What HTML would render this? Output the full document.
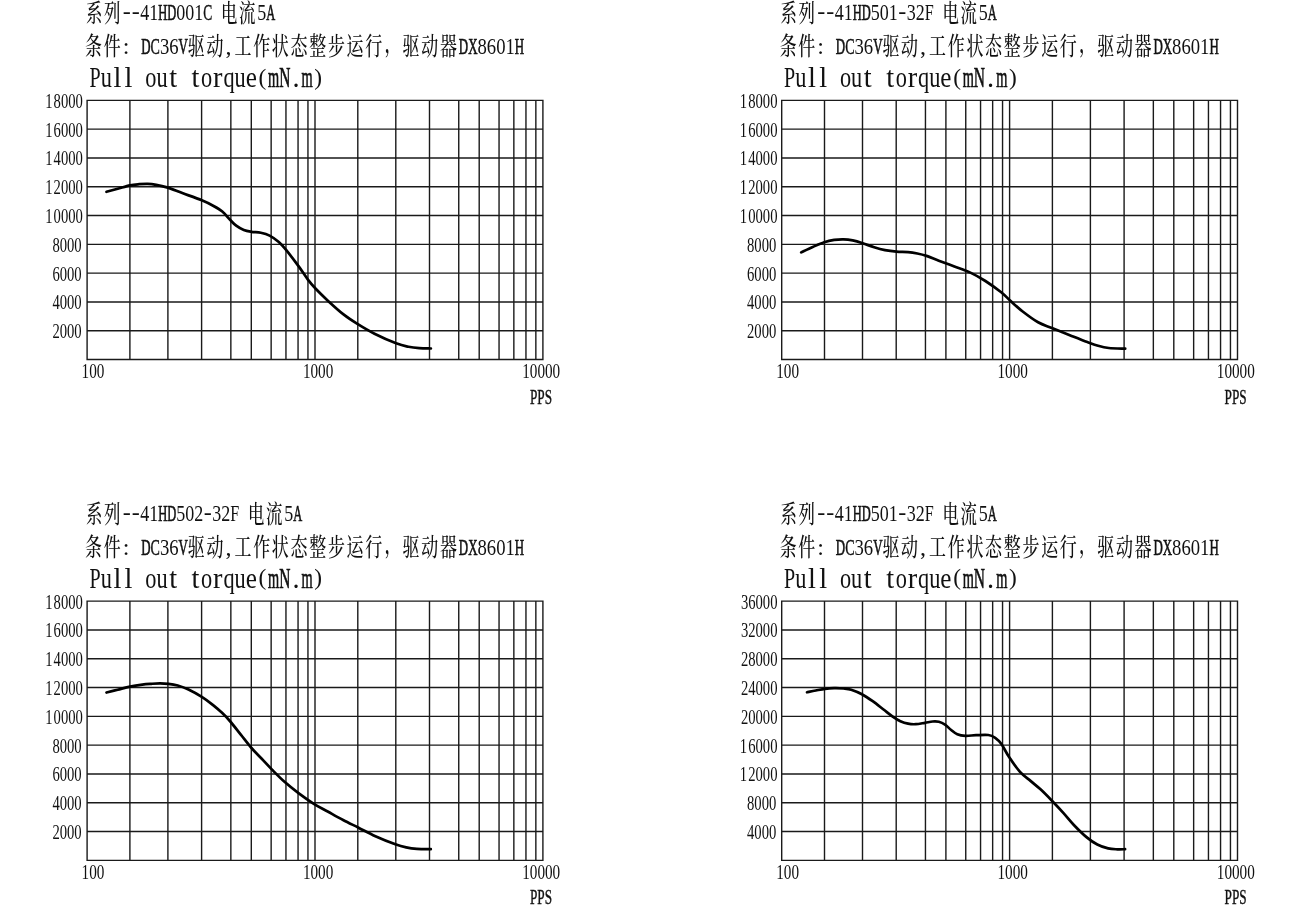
<!DOCTYPE html>
<html lang="zh-CN"><head><meta charset="utf-8"><title>Pull out torque</title>
<style>
html,body{margin:0;padding:0;background:#fff}
svg{display:block;will-change:transform}
tspan.c{font-weight:500}
tspan.n{stroke:#111;stroke-width:.45px}
tspan.m{stroke:#111;stroke-width:.7px}
text{font-family:"Liberation Serif","Noto Serif CJK SC",serif;fill:#111;}
</style></head><body>
<svg width="1300" height="905" viewBox="0 0 1300 905">
<rect width="1300" height="905" fill="#fff"/>
<g><path d="M87.1 99.65V360.25M129.9 99.65V360.25M167.9 99.65V360.25M201.6 99.65V360.25M230.85 99.65V360.25M251.3 99.65V360.25M271.15 99.65V360.25M285.95 99.65V360.25M298.05 99.65V360.25M307.95 99.65V360.25M315 99.65V360.25M357.8 99.65V360.25M395.8 99.65V360.25M429.5 99.65V360.25M458.75 99.65V360.25M479.2 99.65V360.25M499.05 99.65V360.25M513.85 99.65V360.25M525.95 99.65V360.25M535.85 99.65V360.25M542.9 99.65V360.25M86.4 100.35H543.6M86.4 129.15H543.6M86.4 157.95H543.6M86.4 186.75H543.6M86.4 215.55H543.6M86.4 244.35H543.6M86.4 273.15H543.6M86.4 301.95H543.6M86.4 330.75H543.6M86.4 359.55H543.6" fill="none" stroke="#1a1a1a" stroke-width="1.4"/>
<path d="M106.5 191.8C108.37 191.3 113.78 189.87 117.7 188.8C121.62 187.73 126.42 186.17 130 185.4C133.58 184.63 136.25 184.47 139.2 184.2C142.15 183.93 144.87 183.7 147.7 183.8C150.53 183.9 153 184.2 156.2 184.8C159.4 185.4 162.55 186.02 166.9 187.4C171.25 188.78 176.48 190.95 182.3 193.1C188.12 195.25 196.67 198.2 201.8 200.3C206.93 202.4 209.68 203.83 213.1 205.7C216.52 207.57 219.43 209.12 222.3 211.5C225.17 213.88 227.98 217.63 230.3 220C232.62 222.37 233.95 224.03 236.2 225.7C238.45 227.37 241.25 228.98 243.8 230C246.35 231.02 248.67 231.33 251.5 231.8C254.33 232.27 257.78 232.17 260.8 232.8C263.82 233.43 266.6 234.07 269.6 235.6C272.6 237.13 276.02 239.57 278.8 242C281.58 244.43 282.98 246.13 286.3 250.2C289.62 254.27 295.1 261.5 298.7 266.4C302.3 271.3 305.07 275.87 307.9 279.6C310.73 283.33 312.33 285.25 315.7 288.8C319.07 292.35 323.47 296.63 328.1 300.9C332.73 305.17 338.62 310.57 343.5 314.4C348.38 318.23 352.23 320.68 357.4 323.9C362.57 327.12 368.05 330.47 374.5 333.7C380.95 336.93 390.43 341.12 396.1 343.3C401.77 345.48 404.63 345.98 408.5 346.8C412.37 347.62 415.57 347.92 419.3 348.2C423.03 348.48 428.97 348.45 430.9 348.5" fill="none" stroke="#000" stroke-width="2.7" stroke-linecap="round" stroke-linejoin="round"/>
<text font-size="24.1" ><tspan class="c" x="86.01" y="21.8" font-size="25" textLength="16.38" lengthAdjust="spacingAndGlyphs">系</tspan><tspan class="c" x="104.01" y="21.8" font-size="25" textLength="16.38" lengthAdjust="spacingAndGlyphs">列</tspan><tspan x="122.69" y="18.8" textLength="8.03" lengthAdjust="spacingAndGlyphs">-</tspan><tspan x="131.69" y="18.8" textLength="8.03" lengthAdjust="spacingAndGlyphs">-</tspan><tspan x="140.2" y="20.3" textLength="18" lengthAdjust="spacingAndGlyphs">41</tspan><tspan class="m" x="158.2" y="20.3" textLength="9" lengthAdjust="spacingAndGlyphs">H</tspan><tspan class="m" x="167.2" y="20.3" textLength="9" lengthAdjust="spacingAndGlyphs">D</tspan><tspan x="176.2" y="20.3" textLength="27" lengthAdjust="spacingAndGlyphs">001</tspan><tspan class="n" x="203.2" y="20.3" textLength="9" lengthAdjust="spacingAndGlyphs">C</tspan><tspan x="212.2"> </tspan><tspan class="c" x="221.01" y="21.8" font-size="25" textLength="16.38" lengthAdjust="spacingAndGlyphs">电</tspan><tspan class="c" x="239.01" y="21.8" font-size="25" textLength="16.38" lengthAdjust="spacingAndGlyphs">流</tspan><tspan x="257.2" y="20.3" textLength="9" lengthAdjust="spacingAndGlyphs">5</tspan><tspan class="m" x="266.2" y="20.3" textLength="9" lengthAdjust="spacingAndGlyphs">A</tspan></text>
<text font-size="24.1" ><tspan class="c" x="85.04" y="55.4" font-size="25" textLength="17" lengthAdjust="spacingAndGlyphs">条</tspan><tspan class="c" x="103.72" y="55.4" font-size="25" textLength="17" lengthAdjust="spacingAndGlyphs">件</tspan><tspan x="122.76" y="53.9" textLength="6.7" lengthAdjust="spacingAndGlyphs">:</tspan><tspan x="131.9"> </tspan><tspan class="m" x="141.24" y="53.9" textLength="9.34" lengthAdjust="spacingAndGlyphs">D</tspan><tspan class="n" x="150.58" y="53.9" textLength="9.34" lengthAdjust="spacingAndGlyphs">C</tspan><tspan x="159.92" y="53.9" textLength="18.68" lengthAdjust="spacingAndGlyphs">36</tspan><tspan class="m" x="178.6" y="53.9" textLength="9.34" lengthAdjust="spacingAndGlyphs">V</tspan><tspan class="c" x="187.78" y="55.4" font-size="25" textLength="17" lengthAdjust="spacingAndGlyphs">驱</tspan><tspan class="c" x="206.46" y="55.4" font-size="25" textLength="17" lengthAdjust="spacingAndGlyphs">动</tspan><tspan x="225.5" y="53.9" textLength="6.03" lengthAdjust="spacingAndGlyphs">,</tspan><tspan class="c" x="234.48" y="55.4" font-size="25" textLength="17" lengthAdjust="spacingAndGlyphs">工</tspan><tspan class="c" x="253.16" y="55.4" font-size="25" textLength="17" lengthAdjust="spacingAndGlyphs">作</tspan><tspan class="c" x="271.84" y="55.4" font-size="25" textLength="17" lengthAdjust="spacingAndGlyphs">状</tspan><tspan class="c" x="290.52" y="55.4" font-size="25" textLength="17" lengthAdjust="spacingAndGlyphs">态</tspan><tspan class="c" x="309.2" y="55.4" font-size="25" textLength="17" lengthAdjust="spacingAndGlyphs">整</tspan><tspan class="c" x="327.88" y="55.4" font-size="25" textLength="17" lengthAdjust="spacingAndGlyphs">步</tspan><tspan class="c" x="346.56" y="55.4" font-size="25" textLength="17" lengthAdjust="spacingAndGlyphs">运</tspan><tspan class="c" x="365.24" y="55.4" font-size="25" textLength="17" lengthAdjust="spacingAndGlyphs">行</tspan><tspan class="c" x="384.52" y="52.2" font-size="25" textLength="17" lengthAdjust="spacingAndGlyphs">，</tspan><tspan class="c" x="402.6" y="55.4" font-size="25" textLength="17" lengthAdjust="spacingAndGlyphs">驱</tspan><tspan class="c" x="421.28" y="55.4" font-size="25" textLength="17" lengthAdjust="spacingAndGlyphs">动</tspan><tspan class="c" x="439.96" y="55.4" font-size="25" textLength="17" lengthAdjust="spacingAndGlyphs">器</tspan><tspan class="m" x="458.8" y="53.9" textLength="9.34" lengthAdjust="spacingAndGlyphs">D</tspan><tspan class="m" x="468.14" y="53.9" textLength="9.34" lengthAdjust="spacingAndGlyphs">X</tspan><tspan x="477.48" y="53.9" textLength="37.36" lengthAdjust="spacingAndGlyphs">8601</tspan><tspan class="m" x="514.84" y="53.9" textLength="9.34" lengthAdjust="spacingAndGlyphs">H</tspan></text>
<text font-size="28.4" ><tspan x="89.5" y="87" textLength="11.16" lengthAdjust="spacingAndGlyphs">P</tspan><tspan x="100.66" y="87" textLength="11.16" lengthAdjust="spacingAndGlyphs">u</tspan><tspan x="113.45" y="87" textLength="7.89" lengthAdjust="spacingAndGlyphs">l</tspan><tspan x="124.61" y="87" textLength="7.89" lengthAdjust="spacingAndGlyphs">l</tspan><tspan x="134.14"> </tspan><tspan x="145.3" y="87" textLength="11.16" lengthAdjust="spacingAndGlyphs">o</tspan><tspan x="156.46" y="87" textLength="11.16" lengthAdjust="spacingAndGlyphs">u</tspan><tspan x="169.25" y="87" textLength="7.89" lengthAdjust="spacingAndGlyphs">t</tspan><tspan x="178.78"> </tspan><tspan x="191.57" y="87" textLength="7.89" lengthAdjust="spacingAndGlyphs">t</tspan><tspan x="201.1" y="87" textLength="11.16" lengthAdjust="spacingAndGlyphs">o</tspan><tspan x="213.11" y="87" textLength="9.46" lengthAdjust="spacingAndGlyphs">r</tspan><tspan x="223.42" y="87" textLength="11.16" lengthAdjust="spacingAndGlyphs">q</tspan><tspan x="234.58" y="87" textLength="11.16" lengthAdjust="spacingAndGlyphs">u</tspan><tspan x="245.74" y="87" textLength="11.16" lengthAdjust="spacingAndGlyphs">e</tspan><tspan x="258.55" y="84.6" font-size="23.43" textLength="7.8" lengthAdjust="spacingAndGlyphs">(</tspan><tspan class="m" x="268.06" y="87" textLength="11.16" lengthAdjust="spacingAndGlyphs">m</tspan><tspan class="m" x="279.22" y="87" textLength="11.16" lengthAdjust="spacingAndGlyphs">N</tspan><tspan x="292.41" y="87" textLength="7.1" lengthAdjust="spacingAndGlyphs">.</tspan><tspan class="m" x="301.54" y="87" textLength="11.16" lengthAdjust="spacingAndGlyphs">m</tspan><tspan x="314.35" y="84.6" font-size="23.43" textLength="7.8" lengthAdjust="spacingAndGlyphs">)</tspan></text>
<text y="107.75" font-size="21.7"><tspan x="45.2" textLength="7.32" lengthAdjust="spacingAndGlyphs">1</tspan><tspan x="53.62" textLength="29.28" lengthAdjust="spacingAndGlyphs">8000</tspan></text>
<text y="136.55" font-size="21.7"><tspan x="45.2" textLength="7.32" lengthAdjust="spacingAndGlyphs">1</tspan><tspan x="53.62" textLength="29.28" lengthAdjust="spacingAndGlyphs">6000</tspan></text>
<text y="165.35" font-size="21.7"><tspan x="45.2" textLength="7.32" lengthAdjust="spacingAndGlyphs">1</tspan><tspan x="53.62" textLength="29.28" lengthAdjust="spacingAndGlyphs">4000</tspan></text>
<text y="194.15" font-size="21.7"><tspan x="45.2" textLength="7.32" lengthAdjust="spacingAndGlyphs">1</tspan><tspan x="53.62" textLength="29.28" lengthAdjust="spacingAndGlyphs">2000</tspan></text>
<text y="222.95" font-size="21.7"><tspan x="45.2" textLength="7.32" lengthAdjust="spacingAndGlyphs">1</tspan><tspan x="53.62" textLength="29.28" lengthAdjust="spacingAndGlyphs">0000</tspan></text>
<text y="251.75" font-size="21.7"><tspan x="52.42" textLength="29.28" lengthAdjust="spacingAndGlyphs">8000</tspan></text>
<text y="280.55" font-size="21.7"><tspan x="52.42" textLength="29.28" lengthAdjust="spacingAndGlyphs">6000</tspan></text>
<text y="309.35" font-size="21.7"><tspan x="52.42" textLength="29.28" lengthAdjust="spacingAndGlyphs">4000</tspan></text>
<text y="338.15" font-size="21.7"><tspan x="52.42" textLength="29.28" lengthAdjust="spacingAndGlyphs">2000</tspan></text>
<text font-size="21.7" ><tspan x="81.6" y="377.8" textLength="22.8" lengthAdjust="spacingAndGlyphs">100</tspan></text>
<text font-size="21.7" ><tspan x="302.9" y="377.8" textLength="30.4" lengthAdjust="spacingAndGlyphs">1000</tspan></text>
<text font-size="21.7" ><tspan x="522.2" y="377.8" textLength="38" lengthAdjust="spacingAndGlyphs">10000</tspan></text>
<text font-size="21.7" ><tspan class="n" x="530" y="403.6" textLength="7.35" lengthAdjust="spacingAndGlyphs">P</tspan><tspan class="n" x="537.35" y="403.6" textLength="7.35" lengthAdjust="spacingAndGlyphs">P</tspan><tspan class="n" x="544.7" y="403.6" textLength="7.35" lengthAdjust="spacingAndGlyphs">S</tspan></text></g>
<g><path d="M781.7 99.65V360.25M824.5 99.65V360.25M862.5 99.65V360.25M896.2 99.65V360.25M925.45 99.65V360.25M945.9 99.65V360.25M965.75 99.65V360.25M980.55 99.65V360.25M992.65 99.65V360.25M1002.55 99.65V360.25M1009.6 99.65V360.25M1052.4 99.65V360.25M1090.4 99.65V360.25M1124.1 99.65V360.25M1153.35 99.65V360.25M1173.8 99.65V360.25M1193.65 99.65V360.25M1208.45 99.65V360.25M1220.55 99.65V360.25M1230.45 99.65V360.25M1237.5 99.65V360.25M781 100.35H1238.2M781 129.15H1238.2M781 157.95H1238.2M781 186.75H1238.2M781 215.55H1238.2M781 244.35H1238.2M781 273.15H1238.2M781 301.95H1238.2M781 330.75H1238.2M781 359.55H1238.2" fill="none" stroke="#1a1a1a" stroke-width="1.4"/>
<path d="M801.2 252.4C803.12 251.5 808.87 248.7 812.7 247C816.53 245.3 820.62 243.38 824.2 242.2C827.78 241.02 830.98 240.38 834.2 239.9C837.42 239.42 840.42 239.22 843.5 239.3C846.58 239.38 849.5 239.75 852.7 240.4C855.9 241.05 859.12 242.05 862.7 243.2C866.28 244.35 870.48 246.15 874.2 247.3C877.92 248.45 881.28 249.38 885 250.1C888.72 250.82 892.65 251.27 896.5 251.6C900.35 251.93 904.63 251.78 908.1 252.1C911.57 252.42 914.23 252.87 917.3 253.5C920.37 254.13 922.92 254.7 926.5 255.9C930.08 257.1 934.15 258.93 938.8 260.7C943.45 262.47 949.13 264.52 954.4 266.5C959.67 268.48 965.23 270.18 970.4 272.6C975.57 275.02 980.27 277.72 985.4 281C990.53 284.28 997.03 289 1001.2 292.3C1005.37 295.6 1006.82 297.6 1010.4 300.8C1013.98 304 1018.08 307.92 1022.7 311.5C1027.32 315.08 1033.23 319.55 1038.1 322.3C1042.97 325.05 1046.52 325.82 1051.9 328C1057.28 330.18 1064.5 333.07 1070.4 335.4C1076.3 337.73 1082.68 340.27 1087.3 342C1091.92 343.73 1094.52 344.8 1098.1 345.8C1101.68 346.8 1104.28 347.53 1108.8 348C1113.32 348.47 1122.47 348.5 1125.2 348.6" fill="none" stroke="#000" stroke-width="2.7" stroke-linecap="round" stroke-linejoin="round"/>
<text font-size="24.1" ><tspan class="c" x="780.61" y="21.8" font-size="25" textLength="16.38" lengthAdjust="spacingAndGlyphs">系</tspan><tspan class="c" x="798.61" y="21.8" font-size="25" textLength="16.38" lengthAdjust="spacingAndGlyphs">列</tspan><tspan x="817.29" y="18.8" textLength="8.03" lengthAdjust="spacingAndGlyphs">-</tspan><tspan x="826.29" y="18.8" textLength="8.03" lengthAdjust="spacingAndGlyphs">-</tspan><tspan x="834.8" y="20.3" textLength="18" lengthAdjust="spacingAndGlyphs">41</tspan><tspan class="m" x="852.8" y="20.3" textLength="9" lengthAdjust="spacingAndGlyphs">H</tspan><tspan class="m" x="861.8" y="20.3" textLength="9" lengthAdjust="spacingAndGlyphs">D</tspan><tspan x="870.8" y="20.3" textLength="27" lengthAdjust="spacingAndGlyphs">501</tspan><tspan x="898.29" y="18.8" textLength="8.03" lengthAdjust="spacingAndGlyphs">-</tspan><tspan x="906.8" y="20.3" textLength="18" lengthAdjust="spacingAndGlyphs">32</tspan><tspan x="924.8" y="20.3" textLength="9" lengthAdjust="spacingAndGlyphs">F</tspan><tspan x="933.8"> </tspan><tspan class="c" x="942.61" y="21.8" font-size="25" textLength="16.38" lengthAdjust="spacingAndGlyphs">电</tspan><tspan class="c" x="960.61" y="21.8" font-size="25" textLength="16.38" lengthAdjust="spacingAndGlyphs">流</tspan><tspan x="978.8" y="20.3" textLength="9" lengthAdjust="spacingAndGlyphs">5</tspan><tspan class="m" x="987.8" y="20.3" textLength="9" lengthAdjust="spacingAndGlyphs">A</tspan></text>
<text font-size="24.1" ><tspan class="c" x="779.64" y="55.4" font-size="25" textLength="17" lengthAdjust="spacingAndGlyphs">条</tspan><tspan class="c" x="798.32" y="55.4" font-size="25" textLength="17" lengthAdjust="spacingAndGlyphs">件</tspan><tspan x="817.36" y="53.9" textLength="6.7" lengthAdjust="spacingAndGlyphs">:</tspan><tspan x="826.5"> </tspan><tspan class="m" x="835.84" y="53.9" textLength="9.34" lengthAdjust="spacingAndGlyphs">D</tspan><tspan class="n" x="845.18" y="53.9" textLength="9.34" lengthAdjust="spacingAndGlyphs">C</tspan><tspan x="854.52" y="53.9" textLength="18.68" lengthAdjust="spacingAndGlyphs">36</tspan><tspan class="m" x="873.2" y="53.9" textLength="9.34" lengthAdjust="spacingAndGlyphs">V</tspan><tspan class="c" x="882.38" y="55.4" font-size="25" textLength="17" lengthAdjust="spacingAndGlyphs">驱</tspan><tspan class="c" x="901.06" y="55.4" font-size="25" textLength="17" lengthAdjust="spacingAndGlyphs">动</tspan><tspan x="920.1" y="53.9" textLength="6.03" lengthAdjust="spacingAndGlyphs">,</tspan><tspan class="c" x="929.08" y="55.4" font-size="25" textLength="17" lengthAdjust="spacingAndGlyphs">工</tspan><tspan class="c" x="947.76" y="55.4" font-size="25" textLength="17" lengthAdjust="spacingAndGlyphs">作</tspan><tspan class="c" x="966.44" y="55.4" font-size="25" textLength="17" lengthAdjust="spacingAndGlyphs">状</tspan><tspan class="c" x="985.12" y="55.4" font-size="25" textLength="17" lengthAdjust="spacingAndGlyphs">态</tspan><tspan class="c" x="1003.8" y="55.4" font-size="25" textLength="17" lengthAdjust="spacingAndGlyphs">整</tspan><tspan class="c" x="1022.48" y="55.4" font-size="25" textLength="17" lengthAdjust="spacingAndGlyphs">步</tspan><tspan class="c" x="1041.16" y="55.4" font-size="25" textLength="17" lengthAdjust="spacingAndGlyphs">运</tspan><tspan class="c" x="1059.84" y="55.4" font-size="25" textLength="17" lengthAdjust="spacingAndGlyphs">行</tspan><tspan class="c" x="1079.12" y="52.2" font-size="25" textLength="17" lengthAdjust="spacingAndGlyphs">，</tspan><tspan class="c" x="1097.2" y="55.4" font-size="25" textLength="17" lengthAdjust="spacingAndGlyphs">驱</tspan><tspan class="c" x="1115.88" y="55.4" font-size="25" textLength="17" lengthAdjust="spacingAndGlyphs">动</tspan><tspan class="c" x="1134.56" y="55.4" font-size="25" textLength="17" lengthAdjust="spacingAndGlyphs">器</tspan><tspan class="m" x="1153.4" y="53.9" textLength="9.34" lengthAdjust="spacingAndGlyphs">D</tspan><tspan class="m" x="1162.74" y="53.9" textLength="9.34" lengthAdjust="spacingAndGlyphs">X</tspan><tspan x="1172.08" y="53.9" textLength="37.36" lengthAdjust="spacingAndGlyphs">8601</tspan><tspan class="m" x="1209.44" y="53.9" textLength="9.34" lengthAdjust="spacingAndGlyphs">H</tspan></text>
<text font-size="28.4" ><tspan x="784.1" y="87" textLength="11.16" lengthAdjust="spacingAndGlyphs">P</tspan><tspan x="795.26" y="87" textLength="11.16" lengthAdjust="spacingAndGlyphs">u</tspan><tspan x="808.05" y="87" textLength="7.89" lengthAdjust="spacingAndGlyphs">l</tspan><tspan x="819.21" y="87" textLength="7.89" lengthAdjust="spacingAndGlyphs">l</tspan><tspan x="828.74"> </tspan><tspan x="839.9" y="87" textLength="11.16" lengthAdjust="spacingAndGlyphs">o</tspan><tspan x="851.06" y="87" textLength="11.16" lengthAdjust="spacingAndGlyphs">u</tspan><tspan x="863.85" y="87" textLength="7.89" lengthAdjust="spacingAndGlyphs">t</tspan><tspan x="873.38"> </tspan><tspan x="886.17" y="87" textLength="7.89" lengthAdjust="spacingAndGlyphs">t</tspan><tspan x="895.7" y="87" textLength="11.16" lengthAdjust="spacingAndGlyphs">o</tspan><tspan x="907.71" y="87" textLength="9.46" lengthAdjust="spacingAndGlyphs">r</tspan><tspan x="918.02" y="87" textLength="11.16" lengthAdjust="spacingAndGlyphs">q</tspan><tspan x="929.18" y="87" textLength="11.16" lengthAdjust="spacingAndGlyphs">u</tspan><tspan x="940.34" y="87" textLength="11.16" lengthAdjust="spacingAndGlyphs">e</tspan><tspan x="953.15" y="84.6" font-size="23.43" textLength="7.8" lengthAdjust="spacingAndGlyphs">(</tspan><tspan class="m" x="962.66" y="87" textLength="11.16" lengthAdjust="spacingAndGlyphs">m</tspan><tspan class="m" x="973.82" y="87" textLength="11.16" lengthAdjust="spacingAndGlyphs">N</tspan><tspan x="987.01" y="87" textLength="7.1" lengthAdjust="spacingAndGlyphs">.</tspan><tspan class="m" x="996.14" y="87" textLength="11.16" lengthAdjust="spacingAndGlyphs">m</tspan><tspan x="1008.95" y="84.6" font-size="23.43" textLength="7.8" lengthAdjust="spacingAndGlyphs">)</tspan></text>
<text y="107.75" font-size="21.7"><tspan x="739.8" textLength="7.32" lengthAdjust="spacingAndGlyphs">1</tspan><tspan x="748.22" textLength="29.28" lengthAdjust="spacingAndGlyphs">8000</tspan></text>
<text y="136.55" font-size="21.7"><tspan x="739.8" textLength="7.32" lengthAdjust="spacingAndGlyphs">1</tspan><tspan x="748.22" textLength="29.28" lengthAdjust="spacingAndGlyphs">6000</tspan></text>
<text y="165.35" font-size="21.7"><tspan x="739.8" textLength="7.32" lengthAdjust="spacingAndGlyphs">1</tspan><tspan x="748.22" textLength="29.28" lengthAdjust="spacingAndGlyphs">4000</tspan></text>
<text y="194.15" font-size="21.7"><tspan x="739.8" textLength="7.32" lengthAdjust="spacingAndGlyphs">1</tspan><tspan x="748.22" textLength="29.28" lengthAdjust="spacingAndGlyphs">2000</tspan></text>
<text y="222.95" font-size="21.7"><tspan x="739.8" textLength="7.32" lengthAdjust="spacingAndGlyphs">1</tspan><tspan x="748.22" textLength="29.28" lengthAdjust="spacingAndGlyphs">0000</tspan></text>
<text y="251.75" font-size="21.7"><tspan x="747.02" textLength="29.28" lengthAdjust="spacingAndGlyphs">8000</tspan></text>
<text y="280.55" font-size="21.7"><tspan x="747.02" textLength="29.28" lengthAdjust="spacingAndGlyphs">6000</tspan></text>
<text y="309.35" font-size="21.7"><tspan x="747.02" textLength="29.28" lengthAdjust="spacingAndGlyphs">4000</tspan></text>
<text y="338.15" font-size="21.7"><tspan x="747.02" textLength="29.28" lengthAdjust="spacingAndGlyphs">2000</tspan></text>
<text font-size="21.7" ><tspan x="776.2" y="377.8" textLength="22.8" lengthAdjust="spacingAndGlyphs">100</tspan></text>
<text font-size="21.7" ><tspan x="997.5" y="377.8" textLength="30.4" lengthAdjust="spacingAndGlyphs">1000</tspan></text>
<text font-size="21.7" ><tspan x="1216.8" y="377.8" textLength="38" lengthAdjust="spacingAndGlyphs">10000</tspan></text>
<text font-size="21.7" ><tspan class="n" x="1224.6" y="403.6" textLength="7.35" lengthAdjust="spacingAndGlyphs">P</tspan><tspan class="n" x="1231.95" y="403.6" textLength="7.35" lengthAdjust="spacingAndGlyphs">P</tspan><tspan class="n" x="1239.3" y="403.6" textLength="7.35" lengthAdjust="spacingAndGlyphs">S</tspan></text></g>
<g><path d="M87.1 600.45V861.05M129.9 600.45V861.05M167.9 600.45V861.05M201.6 600.45V861.05M230.85 600.45V861.05M251.3 600.45V861.05M271.15 600.45V861.05M285.95 600.45V861.05M298.05 600.45V861.05M307.95 600.45V861.05M315 600.45V861.05M357.8 600.45V861.05M395.8 600.45V861.05M429.5 600.45V861.05M458.75 600.45V861.05M479.2 600.45V861.05M499.05 600.45V861.05M513.85 600.45V861.05M525.95 600.45V861.05M535.85 600.45V861.05M542.9 600.45V861.05M86.4 601.15H543.6M86.4 629.95H543.6M86.4 658.75H543.6M86.4 687.55H543.6M86.4 716.35H543.6M86.4 745.15H543.6M86.4 773.95H543.6M86.4 802.75H543.6M86.4 831.55H543.6M86.4 860.35H543.6" fill="none" stroke="#1a1a1a" stroke-width="1.4"/>
<path d="M106.5 692.5C108.37 692.03 113.78 690.68 117.7 689.7C121.62 688.72 125.9 687.45 130 686.6C134.1 685.75 138.72 685.07 142.3 684.6C145.88 684.13 148.55 684 151.5 683.8C154.45 683.6 157.17 683.4 160 683.4C162.83 683.4 165.55 683.45 168.5 683.8C171.45 684.15 174.37 684.55 177.7 685.5C181.03 686.45 184.48 687.6 188.5 689.5C192.52 691.4 197.7 694.3 201.8 696.9C205.9 699.5 209.68 702.4 213.1 705.1C216.52 707.8 219.43 710.37 222.3 713.1C225.17 715.83 227.22 717.92 230.3 721.5C233.38 725.08 237.27 730.18 240.8 734.6C244.33 739.02 248.05 744.02 251.5 748C254.95 751.98 258.08 754.9 261.5 758.5C264.92 762.1 268.17 765.72 272 769.6C275.83 773.48 280.08 777.88 284.5 781.8C288.92 785.72 293.62 789.43 298.5 793.1C303.38 796.77 308.93 800.73 313.8 803.8C318.67 806.87 322.82 808.8 327.7 811.5C332.58 814.2 337.97 817.3 343.1 820C348.23 822.7 353.12 825 358.5 827.7C363.88 830.4 369.25 833.43 375.4 836.2C381.55 838.97 390.27 842.43 395.4 844.3C400.53 846.17 402.62 846.63 406.2 847.4C409.78 848.17 412.8 848.6 416.9 848.9C421 849.2 428.48 849.15 430.8 849.2" fill="none" stroke="#000" stroke-width="2.7" stroke-linecap="round" stroke-linejoin="round"/>
<text font-size="24.1" ><tspan class="c" x="86.01" y="522.6" font-size="25" textLength="16.38" lengthAdjust="spacingAndGlyphs">系</tspan><tspan class="c" x="104.01" y="522.6" font-size="25" textLength="16.38" lengthAdjust="spacingAndGlyphs">列</tspan><tspan x="122.69" y="519.6" textLength="8.03" lengthAdjust="spacingAndGlyphs">-</tspan><tspan x="131.69" y="519.6" textLength="8.03" lengthAdjust="spacingAndGlyphs">-</tspan><tspan x="140.2" y="521.1" textLength="18" lengthAdjust="spacingAndGlyphs">41</tspan><tspan class="m" x="158.2" y="521.1" textLength="9" lengthAdjust="spacingAndGlyphs">H</tspan><tspan class="m" x="167.2" y="521.1" textLength="9" lengthAdjust="spacingAndGlyphs">D</tspan><tspan x="176.2" y="521.1" textLength="27" lengthAdjust="spacingAndGlyphs">502</tspan><tspan x="203.69" y="519.6" textLength="8.03" lengthAdjust="spacingAndGlyphs">-</tspan><tspan x="212.2" y="521.1" textLength="18" lengthAdjust="spacingAndGlyphs">32</tspan><tspan x="230.2" y="521.1" textLength="9" lengthAdjust="spacingAndGlyphs">F</tspan><tspan x="239.2"> </tspan><tspan class="c" x="248.01" y="522.6" font-size="25" textLength="16.38" lengthAdjust="spacingAndGlyphs">电</tspan><tspan class="c" x="266.01" y="522.6" font-size="25" textLength="16.38" lengthAdjust="spacingAndGlyphs">流</tspan><tspan x="284.2" y="521.1" textLength="9" lengthAdjust="spacingAndGlyphs">5</tspan><tspan class="m" x="293.2" y="521.1" textLength="9" lengthAdjust="spacingAndGlyphs">A</tspan></text>
<text font-size="24.1" ><tspan class="c" x="85.04" y="556.2" font-size="25" textLength="17" lengthAdjust="spacingAndGlyphs">条</tspan><tspan class="c" x="103.72" y="556.2" font-size="25" textLength="17" lengthAdjust="spacingAndGlyphs">件</tspan><tspan x="122.76" y="554.7" textLength="6.7" lengthAdjust="spacingAndGlyphs">:</tspan><tspan x="131.9"> </tspan><tspan class="m" x="141.24" y="554.7" textLength="9.34" lengthAdjust="spacingAndGlyphs">D</tspan><tspan class="n" x="150.58" y="554.7" textLength="9.34" lengthAdjust="spacingAndGlyphs">C</tspan><tspan x="159.92" y="554.7" textLength="18.68" lengthAdjust="spacingAndGlyphs">36</tspan><tspan class="m" x="178.6" y="554.7" textLength="9.34" lengthAdjust="spacingAndGlyphs">V</tspan><tspan class="c" x="187.78" y="556.2" font-size="25" textLength="17" lengthAdjust="spacingAndGlyphs">驱</tspan><tspan class="c" x="206.46" y="556.2" font-size="25" textLength="17" lengthAdjust="spacingAndGlyphs">动</tspan><tspan x="225.5" y="554.7" textLength="6.03" lengthAdjust="spacingAndGlyphs">,</tspan><tspan class="c" x="234.48" y="556.2" font-size="25" textLength="17" lengthAdjust="spacingAndGlyphs">工</tspan><tspan class="c" x="253.16" y="556.2" font-size="25" textLength="17" lengthAdjust="spacingAndGlyphs">作</tspan><tspan class="c" x="271.84" y="556.2" font-size="25" textLength="17" lengthAdjust="spacingAndGlyphs">状</tspan><tspan class="c" x="290.52" y="556.2" font-size="25" textLength="17" lengthAdjust="spacingAndGlyphs">态</tspan><tspan class="c" x="309.2" y="556.2" font-size="25" textLength="17" lengthAdjust="spacingAndGlyphs">整</tspan><tspan class="c" x="327.88" y="556.2" font-size="25" textLength="17" lengthAdjust="spacingAndGlyphs">步</tspan><tspan class="c" x="346.56" y="556.2" font-size="25" textLength="17" lengthAdjust="spacingAndGlyphs">运</tspan><tspan class="c" x="365.24" y="556.2" font-size="25" textLength="17" lengthAdjust="spacingAndGlyphs">行</tspan><tspan class="c" x="384.52" y="553" font-size="25" textLength="17" lengthAdjust="spacingAndGlyphs">，</tspan><tspan class="c" x="402.6" y="556.2" font-size="25" textLength="17" lengthAdjust="spacingAndGlyphs">驱</tspan><tspan class="c" x="421.28" y="556.2" font-size="25" textLength="17" lengthAdjust="spacingAndGlyphs">动</tspan><tspan class="c" x="439.96" y="556.2" font-size="25" textLength="17" lengthAdjust="spacingAndGlyphs">器</tspan><tspan class="m" x="458.8" y="554.7" textLength="9.34" lengthAdjust="spacingAndGlyphs">D</tspan><tspan class="m" x="468.14" y="554.7" textLength="9.34" lengthAdjust="spacingAndGlyphs">X</tspan><tspan x="477.48" y="554.7" textLength="37.36" lengthAdjust="spacingAndGlyphs">8601</tspan><tspan class="m" x="514.84" y="554.7" textLength="9.34" lengthAdjust="spacingAndGlyphs">H</tspan></text>
<text font-size="28.4" ><tspan x="89.5" y="587.8" textLength="11.16" lengthAdjust="spacingAndGlyphs">P</tspan><tspan x="100.66" y="587.8" textLength="11.16" lengthAdjust="spacingAndGlyphs">u</tspan><tspan x="113.45" y="587.8" textLength="7.89" lengthAdjust="spacingAndGlyphs">l</tspan><tspan x="124.61" y="587.8" textLength="7.89" lengthAdjust="spacingAndGlyphs">l</tspan><tspan x="134.14"> </tspan><tspan x="145.3" y="587.8" textLength="11.16" lengthAdjust="spacingAndGlyphs">o</tspan><tspan x="156.46" y="587.8" textLength="11.16" lengthAdjust="spacingAndGlyphs">u</tspan><tspan x="169.25" y="587.8" textLength="7.89" lengthAdjust="spacingAndGlyphs">t</tspan><tspan x="178.78"> </tspan><tspan x="191.57" y="587.8" textLength="7.89" lengthAdjust="spacingAndGlyphs">t</tspan><tspan x="201.1" y="587.8" textLength="11.16" lengthAdjust="spacingAndGlyphs">o</tspan><tspan x="213.11" y="587.8" textLength="9.46" lengthAdjust="spacingAndGlyphs">r</tspan><tspan x="223.42" y="587.8" textLength="11.16" lengthAdjust="spacingAndGlyphs">q</tspan><tspan x="234.58" y="587.8" textLength="11.16" lengthAdjust="spacingAndGlyphs">u</tspan><tspan x="245.74" y="587.8" textLength="11.16" lengthAdjust="spacingAndGlyphs">e</tspan><tspan x="258.55" y="585.4" font-size="23.43" textLength="7.8" lengthAdjust="spacingAndGlyphs">(</tspan><tspan class="m" x="268.06" y="587.8" textLength="11.16" lengthAdjust="spacingAndGlyphs">m</tspan><tspan class="m" x="279.22" y="587.8" textLength="11.16" lengthAdjust="spacingAndGlyphs">N</tspan><tspan x="292.41" y="587.8" textLength="7.1" lengthAdjust="spacingAndGlyphs">.</tspan><tspan class="m" x="301.54" y="587.8" textLength="11.16" lengthAdjust="spacingAndGlyphs">m</tspan><tspan x="314.35" y="585.4" font-size="23.43" textLength="7.8" lengthAdjust="spacingAndGlyphs">)</tspan></text>
<text y="608.55" font-size="21.7"><tspan x="45.2" textLength="7.32" lengthAdjust="spacingAndGlyphs">1</tspan><tspan x="53.62" textLength="29.28" lengthAdjust="spacingAndGlyphs">8000</tspan></text>
<text y="637.35" font-size="21.7"><tspan x="45.2" textLength="7.32" lengthAdjust="spacingAndGlyphs">1</tspan><tspan x="53.62" textLength="29.28" lengthAdjust="spacingAndGlyphs">6000</tspan></text>
<text y="666.15" font-size="21.7"><tspan x="45.2" textLength="7.32" lengthAdjust="spacingAndGlyphs">1</tspan><tspan x="53.62" textLength="29.28" lengthAdjust="spacingAndGlyphs">4000</tspan></text>
<text y="694.95" font-size="21.7"><tspan x="45.2" textLength="7.32" lengthAdjust="spacingAndGlyphs">1</tspan><tspan x="53.62" textLength="29.28" lengthAdjust="spacingAndGlyphs">2000</tspan></text>
<text y="723.75" font-size="21.7"><tspan x="45.2" textLength="7.32" lengthAdjust="spacingAndGlyphs">1</tspan><tspan x="53.62" textLength="29.28" lengthAdjust="spacingAndGlyphs">0000</tspan></text>
<text y="752.55" font-size="21.7"><tspan x="52.42" textLength="29.28" lengthAdjust="spacingAndGlyphs">8000</tspan></text>
<text y="781.35" font-size="21.7"><tspan x="52.42" textLength="29.28" lengthAdjust="spacingAndGlyphs">6000</tspan></text>
<text y="810.15" font-size="21.7"><tspan x="52.42" textLength="29.28" lengthAdjust="spacingAndGlyphs">4000</tspan></text>
<text y="838.95" font-size="21.7"><tspan x="52.42" textLength="29.28" lengthAdjust="spacingAndGlyphs">2000</tspan></text>
<text font-size="21.7" ><tspan x="81.6" y="878.6" textLength="22.8" lengthAdjust="spacingAndGlyphs">100</tspan></text>
<text font-size="21.7" ><tspan x="302.9" y="878.6" textLength="30.4" lengthAdjust="spacingAndGlyphs">1000</tspan></text>
<text font-size="21.7" ><tspan x="522.2" y="878.6" textLength="38" lengthAdjust="spacingAndGlyphs">10000</tspan></text>
<text font-size="21.7" ><tspan class="n" x="530" y="904.4" textLength="7.35" lengthAdjust="spacingAndGlyphs">P</tspan><tspan class="n" x="537.35" y="904.4" textLength="7.35" lengthAdjust="spacingAndGlyphs">P</tspan><tspan class="n" x="544.7" y="904.4" textLength="7.35" lengthAdjust="spacingAndGlyphs">S</tspan></text></g>
<g><path d="M781.7 600.45V861.05M824.5 600.45V861.05M862.5 600.45V861.05M896.2 600.45V861.05M925.45 600.45V861.05M945.9 600.45V861.05M965.75 600.45V861.05M980.55 600.45V861.05M992.65 600.45V861.05M1002.55 600.45V861.05M1009.6 600.45V861.05M1052.4 600.45V861.05M1090.4 600.45V861.05M1124.1 600.45V861.05M1153.35 600.45V861.05M1173.8 600.45V861.05M1193.65 600.45V861.05M1208.45 600.45V861.05M1220.55 600.45V861.05M1230.45 600.45V861.05M1237.5 600.45V861.05M781 601.15H1238.2M781 629.95H1238.2M781 658.75H1238.2M781 687.55H1238.2M781 716.35H1238.2M781 745.15H1238.2M781 773.95H1238.2M781 802.75H1238.2M781 831.55H1238.2M781 860.35H1238.2" fill="none" stroke="#1a1a1a" stroke-width="1.4"/>
<path d="M807 692.3C808.47 692 812.8 691.08 815.8 690.5C818.8 689.92 821.93 689.18 825 688.8C828.07 688.42 831.12 688.25 834.2 688.2C837.28 688.15 840.67 688.25 843.5 688.5C846.33 688.75 848.13 688.75 851.2 689.7C854.27 690.65 858.32 692.28 861.9 694.2C865.48 696.12 869.1 698.65 872.7 701.2C876.3 703.75 880.17 706.93 883.5 709.5C886.83 712.07 889.88 714.65 892.7 716.6C895.52 718.55 897.83 720.02 900.4 721.2C902.97 722.38 905.53 723.2 908.1 723.7C910.67 724.2 912.98 724.35 915.8 724.2C918.62 724.05 922.18 723.25 925 722.8C927.82 722.35 930.4 721.67 932.7 721.5C935 721.33 936.75 721.28 938.8 721.8C940.85 722.32 942.93 723.23 945 724.6C947.07 725.97 949.15 728.4 951.2 730C953.25 731.6 954.93 733.23 957.3 734.2C959.67 735.17 962.28 735.63 965.4 735.8C968.52 735.97 972.18 735.33 976 735.2C979.82 735.07 985.1 734.57 988.3 735C991.5 735.43 993.02 736.3 995.2 737.8C997.38 739.3 999.08 740.78 1001.4 744C1003.72 747.22 1006 752.47 1009.1 757.1C1012.2 761.73 1016.38 767.8 1020 771.8C1023.62 775.8 1027.33 778.13 1030.8 781.1C1034.27 784.07 1037.2 786.25 1040.8 789.6C1044.4 792.95 1048.65 797.33 1052.4 801.2C1056.15 805.07 1059.68 808.8 1063.3 812.8C1066.92 816.8 1070.23 821.15 1074.1 825.2C1077.97 829.25 1082.63 833.88 1086.5 837.1C1090.37 840.32 1093.7 842.62 1097.3 844.5C1100.9 846.38 1104.75 847.6 1108.1 848.4C1111.45 849.2 1114.57 849.17 1117.4 849.3C1120.23 849.43 1123.82 849.22 1125.1 849.2" fill="none" stroke="#000" stroke-width="2.7" stroke-linecap="round" stroke-linejoin="round"/>
<text font-size="24.1" ><tspan class="c" x="780.61" y="522.6" font-size="25" textLength="16.38" lengthAdjust="spacingAndGlyphs">系</tspan><tspan class="c" x="798.61" y="522.6" font-size="25" textLength="16.38" lengthAdjust="spacingAndGlyphs">列</tspan><tspan x="817.29" y="519.6" textLength="8.03" lengthAdjust="spacingAndGlyphs">-</tspan><tspan x="826.29" y="519.6" textLength="8.03" lengthAdjust="spacingAndGlyphs">-</tspan><tspan x="834.8" y="521.1" textLength="18" lengthAdjust="spacingAndGlyphs">41</tspan><tspan class="m" x="852.8" y="521.1" textLength="9" lengthAdjust="spacingAndGlyphs">H</tspan><tspan class="m" x="861.8" y="521.1" textLength="9" lengthAdjust="spacingAndGlyphs">D</tspan><tspan x="870.8" y="521.1" textLength="27" lengthAdjust="spacingAndGlyphs">501</tspan><tspan x="898.29" y="519.6" textLength="8.03" lengthAdjust="spacingAndGlyphs">-</tspan><tspan x="906.8" y="521.1" textLength="18" lengthAdjust="spacingAndGlyphs">32</tspan><tspan x="924.8" y="521.1" textLength="9" lengthAdjust="spacingAndGlyphs">F</tspan><tspan x="933.8"> </tspan><tspan class="c" x="942.61" y="522.6" font-size="25" textLength="16.38" lengthAdjust="spacingAndGlyphs">电</tspan><tspan class="c" x="960.61" y="522.6" font-size="25" textLength="16.38" lengthAdjust="spacingAndGlyphs">流</tspan><tspan x="978.8" y="521.1" textLength="9" lengthAdjust="spacingAndGlyphs">5</tspan><tspan class="m" x="987.8" y="521.1" textLength="9" lengthAdjust="spacingAndGlyphs">A</tspan></text>
<text font-size="24.1" ><tspan class="c" x="779.64" y="556.2" font-size="25" textLength="17" lengthAdjust="spacingAndGlyphs">条</tspan><tspan class="c" x="798.32" y="556.2" font-size="25" textLength="17" lengthAdjust="spacingAndGlyphs">件</tspan><tspan x="817.36" y="554.7" textLength="6.7" lengthAdjust="spacingAndGlyphs">:</tspan><tspan x="826.5"> </tspan><tspan class="m" x="835.84" y="554.7" textLength="9.34" lengthAdjust="spacingAndGlyphs">D</tspan><tspan class="n" x="845.18" y="554.7" textLength="9.34" lengthAdjust="spacingAndGlyphs">C</tspan><tspan x="854.52" y="554.7" textLength="18.68" lengthAdjust="spacingAndGlyphs">36</tspan><tspan class="m" x="873.2" y="554.7" textLength="9.34" lengthAdjust="spacingAndGlyphs">V</tspan><tspan class="c" x="882.38" y="556.2" font-size="25" textLength="17" lengthAdjust="spacingAndGlyphs">驱</tspan><tspan class="c" x="901.06" y="556.2" font-size="25" textLength="17" lengthAdjust="spacingAndGlyphs">动</tspan><tspan x="920.1" y="554.7" textLength="6.03" lengthAdjust="spacingAndGlyphs">,</tspan><tspan class="c" x="929.08" y="556.2" font-size="25" textLength="17" lengthAdjust="spacingAndGlyphs">工</tspan><tspan class="c" x="947.76" y="556.2" font-size="25" textLength="17" lengthAdjust="spacingAndGlyphs">作</tspan><tspan class="c" x="966.44" y="556.2" font-size="25" textLength="17" lengthAdjust="spacingAndGlyphs">状</tspan><tspan class="c" x="985.12" y="556.2" font-size="25" textLength="17" lengthAdjust="spacingAndGlyphs">态</tspan><tspan class="c" x="1003.8" y="556.2" font-size="25" textLength="17" lengthAdjust="spacingAndGlyphs">整</tspan><tspan class="c" x="1022.48" y="556.2" font-size="25" textLength="17" lengthAdjust="spacingAndGlyphs">步</tspan><tspan class="c" x="1041.16" y="556.2" font-size="25" textLength="17" lengthAdjust="spacingAndGlyphs">运</tspan><tspan class="c" x="1059.84" y="556.2" font-size="25" textLength="17" lengthAdjust="spacingAndGlyphs">行</tspan><tspan class="c" x="1079.12" y="553" font-size="25" textLength="17" lengthAdjust="spacingAndGlyphs">，</tspan><tspan class="c" x="1097.2" y="556.2" font-size="25" textLength="17" lengthAdjust="spacingAndGlyphs">驱</tspan><tspan class="c" x="1115.88" y="556.2" font-size="25" textLength="17" lengthAdjust="spacingAndGlyphs">动</tspan><tspan class="c" x="1134.56" y="556.2" font-size="25" textLength="17" lengthAdjust="spacingAndGlyphs">器</tspan><tspan class="m" x="1153.4" y="554.7" textLength="9.34" lengthAdjust="spacingAndGlyphs">D</tspan><tspan class="m" x="1162.74" y="554.7" textLength="9.34" lengthAdjust="spacingAndGlyphs">X</tspan><tspan x="1172.08" y="554.7" textLength="37.36" lengthAdjust="spacingAndGlyphs">8601</tspan><tspan class="m" x="1209.44" y="554.7" textLength="9.34" lengthAdjust="spacingAndGlyphs">H</tspan></text>
<text font-size="28.4" ><tspan x="784.1" y="587.8" textLength="11.16" lengthAdjust="spacingAndGlyphs">P</tspan><tspan x="795.26" y="587.8" textLength="11.16" lengthAdjust="spacingAndGlyphs">u</tspan><tspan x="808.05" y="587.8" textLength="7.89" lengthAdjust="spacingAndGlyphs">l</tspan><tspan x="819.21" y="587.8" textLength="7.89" lengthAdjust="spacingAndGlyphs">l</tspan><tspan x="828.74"> </tspan><tspan x="839.9" y="587.8" textLength="11.16" lengthAdjust="spacingAndGlyphs">o</tspan><tspan x="851.06" y="587.8" textLength="11.16" lengthAdjust="spacingAndGlyphs">u</tspan><tspan x="863.85" y="587.8" textLength="7.89" lengthAdjust="spacingAndGlyphs">t</tspan><tspan x="873.38"> </tspan><tspan x="886.17" y="587.8" textLength="7.89" lengthAdjust="spacingAndGlyphs">t</tspan><tspan x="895.7" y="587.8" textLength="11.16" lengthAdjust="spacingAndGlyphs">o</tspan><tspan x="907.71" y="587.8" textLength="9.46" lengthAdjust="spacingAndGlyphs">r</tspan><tspan x="918.02" y="587.8" textLength="11.16" lengthAdjust="spacingAndGlyphs">q</tspan><tspan x="929.18" y="587.8" textLength="11.16" lengthAdjust="spacingAndGlyphs">u</tspan><tspan x="940.34" y="587.8" textLength="11.16" lengthAdjust="spacingAndGlyphs">e</tspan><tspan x="953.15" y="585.4" font-size="23.43" textLength="7.8" lengthAdjust="spacingAndGlyphs">(</tspan><tspan class="m" x="962.66" y="587.8" textLength="11.16" lengthAdjust="spacingAndGlyphs">m</tspan><tspan class="m" x="973.82" y="587.8" textLength="11.16" lengthAdjust="spacingAndGlyphs">N</tspan><tspan x="987.01" y="587.8" textLength="7.1" lengthAdjust="spacingAndGlyphs">.</tspan><tspan class="m" x="996.14" y="587.8" textLength="11.16" lengthAdjust="spacingAndGlyphs">m</tspan><tspan x="1008.95" y="585.4" font-size="23.43" textLength="7.8" lengthAdjust="spacingAndGlyphs">)</tspan></text>
<text y="608.55" font-size="21.7"><tspan x="740.9" textLength="36.6" lengthAdjust="spacingAndGlyphs">36000</tspan></text>
<text y="637.35" font-size="21.7"><tspan x="740.9" textLength="36.6" lengthAdjust="spacingAndGlyphs">32000</tspan></text>
<text y="666.15" font-size="21.7"><tspan x="740.9" textLength="36.6" lengthAdjust="spacingAndGlyphs">28000</tspan></text>
<text y="694.95" font-size="21.7"><tspan x="740.9" textLength="36.6" lengthAdjust="spacingAndGlyphs">24000</tspan></text>
<text y="723.75" font-size="21.7"><tspan x="740.9" textLength="36.6" lengthAdjust="spacingAndGlyphs">20000</tspan></text>
<text y="752.55" font-size="21.7"><tspan x="739.8" textLength="7.32" lengthAdjust="spacingAndGlyphs">1</tspan><tspan x="748.22" textLength="29.28" lengthAdjust="spacingAndGlyphs">6000</tspan></text>
<text y="781.35" font-size="21.7"><tspan x="739.8" textLength="7.32" lengthAdjust="spacingAndGlyphs">1</tspan><tspan x="748.22" textLength="29.28" lengthAdjust="spacingAndGlyphs">2000</tspan></text>
<text y="810.15" font-size="21.7"><tspan x="747.02" textLength="29.28" lengthAdjust="spacingAndGlyphs">8000</tspan></text>
<text y="838.95" font-size="21.7"><tspan x="747.02" textLength="29.28" lengthAdjust="spacingAndGlyphs">4000</tspan></text>
<text font-size="21.7" ><tspan x="776.2" y="878.6" textLength="22.8" lengthAdjust="spacingAndGlyphs">100</tspan></text>
<text font-size="21.7" ><tspan x="997.5" y="878.6" textLength="30.4" lengthAdjust="spacingAndGlyphs">1000</tspan></text>
<text font-size="21.7" ><tspan x="1216.8" y="878.6" textLength="38" lengthAdjust="spacingAndGlyphs">10000</tspan></text>
<text font-size="21.7" ><tspan class="n" x="1224.6" y="904.4" textLength="7.35" lengthAdjust="spacingAndGlyphs">P</tspan><tspan class="n" x="1231.95" y="904.4" textLength="7.35" lengthAdjust="spacingAndGlyphs">P</tspan><tspan class="n" x="1239.3" y="904.4" textLength="7.35" lengthAdjust="spacingAndGlyphs">S</tspan></text></g>
</svg></body></html>
